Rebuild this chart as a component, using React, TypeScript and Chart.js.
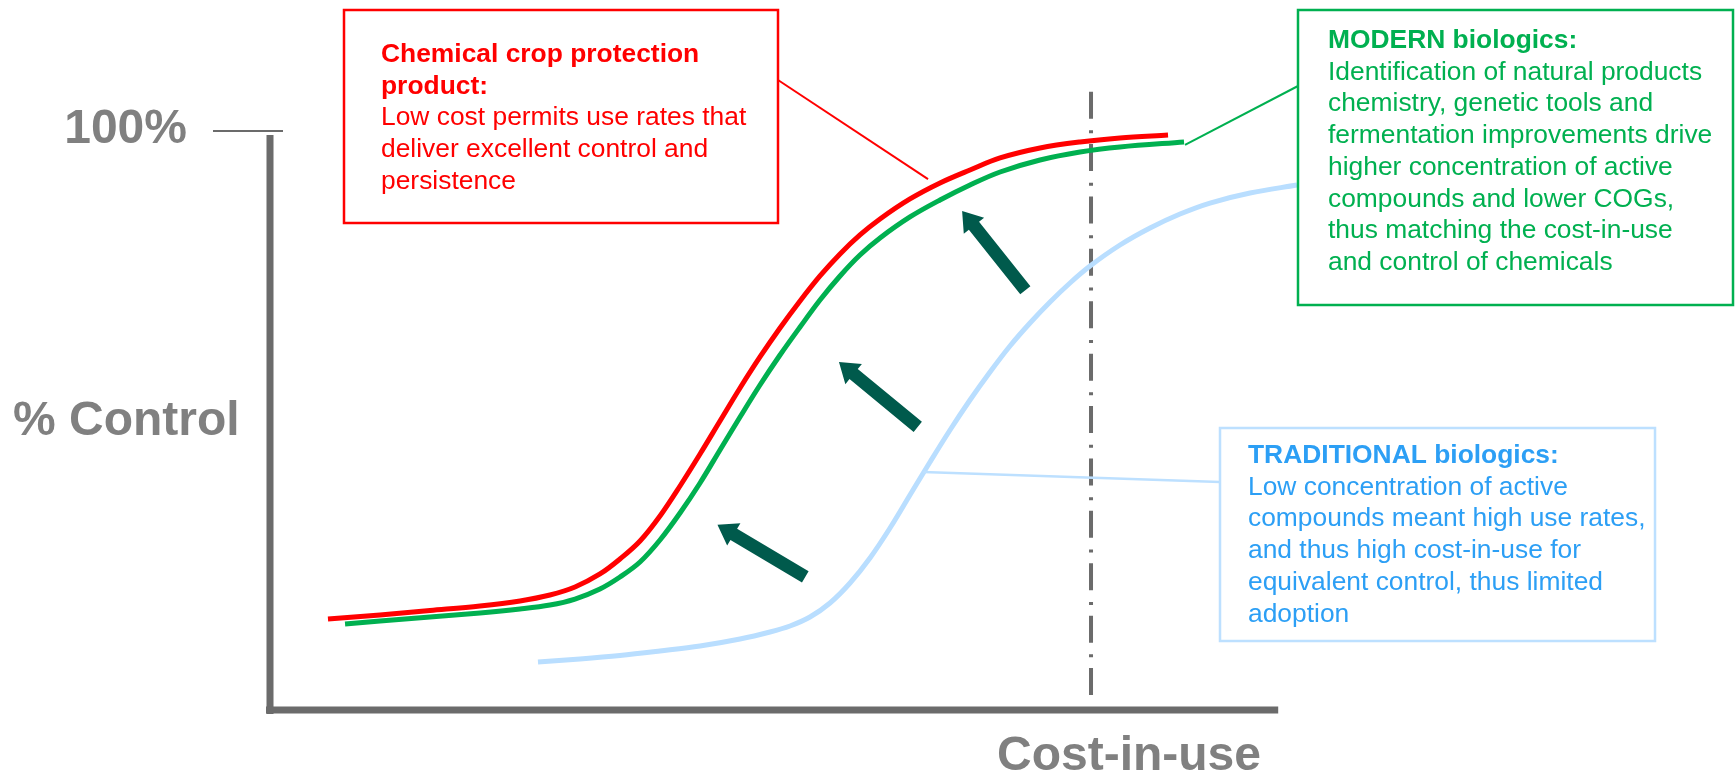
import React, { useEffect, useRef } from "react";
import { Chart, registerables } from "chart.js";

Chart.register(...registerables);

// x: cost-in-use (arbitrary units, 100 = reference cost line), y: % control
const chemicalX = [7.06, 13.4, 19.49, 25.58, 30.45, 34.1, 37.15, 40.19, 42.63, 45.07, 47.5, 49.94, 52.38, 54.81, 57.25, 59.68, 62.12, 64.56, 66.99, 69.43, 71.86, 74.3, 77.95, 81.61, 85.26, 88.92, 93.79, 98.66, 103.53, 109.38];
const chemicalY = [15.72, 16.41, 17.18, 17.96, 18.83, 19.86, 21.24, 23.49, 26.08, 29.19, 33.51, 38.69, 44.21, 49.91, 55.61, 60.97, 65.98, 70.64, 74.96, 78.76, 82.04, 84.8, 88.26, 91.02, 93.26, 95.34, 97.06, 98.1, 98.79, 99.31];

const modernX = [9.14, 13.4, 19.49, 25.58, 30.45, 34.1, 37.15, 40.19, 42.63, 45.07, 47.5, 49.94, 52.38, 54.81, 57.25, 59.68, 62.12, 64.56, 66.99, 69.43, 71.86, 74.3, 77.95, 81.61, 85.26, 88.92, 93.79, 98.66, 103.53, 111.33];
const modernY = [14.85, 15.37, 16.06, 16.75, 17.44, 18.13, 19.17, 20.9, 22.97, 25.56, 29.36, 34.02, 39.21, 44.91, 50.6, 56.13, 61.31, 66.15, 70.81, 74.96, 78.58, 81.52, 85.15, 88.08, 90.67, 92.92, 94.99, 96.37, 97.24, 98.1];

const traditionalX = [32.64, 37.76, 42.63, 47.5, 52.38, 57.25, 60.9, 63.34, 65.77, 68.21, 70.65, 73.08, 75.52, 77.95, 80.39, 82.83, 85.26, 87.7, 90.13, 92.57, 95.01, 97.44, 99.88, 103.53, 107.19, 110.84, 114.49, 119.37, 125.09];
const traditionalY = [8.29, 8.81, 9.41, 10.19, 11.05, 12.26, 13.47, 14.51, 16.06, 18.48, 21.93, 26.25, 31.43, 37.13, 42.83, 48.36, 53.54, 58.38, 62.87, 66.84, 70.47, 73.75, 76.68, 80.31, 83.25, 85.66, 87.56, 89.29, 90.67];

const costLineX = [100, 100];
const costLineY = [106.8, 1.2];

const arrowTailX = [65.2, 78.9, 92.0];
const arrowTailY = [23.0, 48.9, 72.5];
const arrowTipX = [54.5, 69.3, 84.3];
const arrowTipY = [32.0, 60.1, 86.2];

const yTickValue = 100;
const yTickLabel = "100%";
const yAxisTitle = "% Control";
const xAxisTitle = "Cost-in-use";
const xAxisEnd = 122.8;

const calloutTitles = [
  ["Chemical crop protection", "product:"],
  ["MODERN biologics:"],
  ["TRADITIONAL biologics:"],
];
const calloutBodies = [
  ["Low cost permits use rates that", "deliver excellent control and", "persistence"],
  [
    "Identification of natural products",
    "chemistry, genetic tools and",
    "fermentation improvements drive",
    "higher concentration of active",
    "compounds and lower COGs,",
    "thus matching the cost-in-use",
    "and control of chemicals",
  ],
  [
    "Low concentration of active",
    "compounds meant high use rates,",
    "and thus high cost-in-use for",
    "equivalent control, thus limited",
    "adoption",
  ],
];
const calloutAnchorX = [80.15, 111.45, 79.54];
const calloutAnchorY = [91.7, 97.6, 41.1];

// layout / style (pixels)
const W = 1736;
const H = 772;
const FONT = '"Liberation Sans", Arial, Helvetica, sans-serif';
const RED = "#ff0000";
const GREEN = "#00b050";
const LIGHTBLUE = "#b9deff";
const BLUE_TEXT = "#2c9ff5";
const AXIS = "#6b6b6b";
const LABEL = "#808080";
const ARROW = "#005a4c";

const boxes = [
  { x: 344, y: 10, w: 434, h: 213, tx: 37, ty: 52, border: RED, text: RED, lx: 778, ly: 80, lw: 2, lc: RED },
  { x: 1298, y: 10, w: 435, h: 295, tx: 30, ty: 38, border: GREEN, text: GREEN, lx: 1298, ly: 86, lw: 2, lc: GREEN },
  { x: 1220, y: 428, w: 435, h: 213, tx: 28, ty: 35, border: "#bde0ff", text: BLUE_TEXT, lx: 1220, ly: 482, lw: 2.5, lc: "#bde0ff" },
];

const toPts = (xs: number[], ys: number[]) => xs.map((x, i) => ({ x, y: ys[i] }));

const decorPlugin = {
  id: "decor",
  beforeDatasetsDraw(chart: any) {
    const ctx = chart.ctx;
    const xs = chart.scales.x;
    const ys = chart.scales.y;
    const ax = xs.getPixelForValue(0);
    const ay = ys.getPixelForValue(0);
    const ty = ys.getPixelForValue(yTickValue);
    ctx.save();
    // axes
    ctx.fillStyle = AXIS;
    ctx.fillRect(ax - 3.5, ty + 4, 7, ay - ty);
    ctx.fillRect(ax - 4, ay - 3.5, xs.getPixelForValue(xAxisEnd) - ax + 4, 7);
    // tick
    ctx.strokeStyle = AXIS;
    ctx.lineWidth = 2;
    ctx.beginPath();
    ctx.moveTo(ax - 57, ty);
    ctx.lineTo(ax + 13, ty);
    ctx.stroke();
    // labels
    ctx.fillStyle = LABEL;
    ctx.font = `bold 48px ${FONT}`;
    ctx.textBaseline = "alphabetic";
    ctx.textAlign = "right";
    ctx.fillText(yTickLabel, ax - 83, ty + 12);
    ctx.textAlign = "left";
    ctx.fillText(yAxisTitle, 13, 435);
    ctx.fillText(xAxisTitle, 997, 770);
    ctx.restore();
  },
  afterDatasetsDraw(chart: any) {
    const ctx = chart.ctx;
    const xs = chart.scales.x;
    const ys = chart.scales.y;
    ctx.save();
    // arrows
    ctx.fillStyle = ARROW;
    for (let i = 0; i < arrowTailX.length; i++) {
      const tx = xs.getPixelForValue(arrowTailX[i]);
      const tyy = ys.getPixelForValue(arrowTailY[i]);
      const px = xs.getPixelForValue(arrowTipX[i]);
      const py = ys.getPixelForValue(arrowTipY[i]);
      const dx = px - tx;
      const dy = py - tyy;
      const len = Math.hypot(dx, dy);
      const ux = dx / len;
      const uy = dy / len;
      const nx = -uy;
      const ny = ux;
      const hw = 6.5;
      const hh = 13;
      const hl = 19;
      const bx = px - ux * hl;
      const by = py - uy * hl;
      ctx.beginPath();
      ctx.moveTo(tx + nx * hw, tyy + ny * hw);
      ctx.lineTo(bx + nx * hw, by + ny * hw);
      ctx.lineTo(bx + nx * hh, by + ny * hh);
      ctx.lineTo(px, py);
      ctx.lineTo(bx - nx * hh, by - ny * hh);
      ctx.lineTo(bx - nx * hw, by - ny * hw);
      ctx.lineTo(tx - nx * hw, tyy - ny * hw);
      ctx.closePath();
      ctx.fill();
    }
    // callouts
    boxes.forEach((b, i) => {
      ctx.strokeStyle = b.lc;
      ctx.lineWidth = b.lw;
      ctx.beginPath();
      ctx.moveTo(b.lx, b.ly);
      ctx.lineTo(xs.getPixelForValue(calloutAnchorX[i]), ys.getPixelForValue(calloutAnchorY[i]));
      ctx.stroke();
      ctx.fillStyle = "#ffffff";
      ctx.fillRect(b.x, b.y, b.w, b.h);
      ctx.strokeStyle = b.border;
      ctx.lineWidth = 2.5;
      ctx.strokeRect(b.x, b.y, b.w, b.h);
      ctx.fillStyle = b.text;
      ctx.textAlign = "left";
      ctx.textBaseline = "alphabetic";
      let yy = b.y + b.ty;
      ctx.font = `bold 26.4px ${FONT}`;
      calloutTitles[i].forEach((t) => {
        ctx.fillText(t, b.x + b.tx, yy);
        yy += 31.7;
      });
      ctx.font = `26.4px ${FONT}`;
      calloutBodies[i].forEach((t) => {
        ctx.fillText(t, b.x + b.tx, yy);
        yy += 31.7;
      });
    });
    ctx.restore();
  },
};

export default function App() {
  const ref = useRef<HTMLCanvasElement | null>(null);
  useEffect(() => {
    if (!ref.current) return;
    const lineDs = (label: string, data: any[], color: string, width: number, order: number) => ({
      label,
      data,
      borderColor: color,
      backgroundColor: color,
      borderWidth: width,
      pointRadius: 0,
      fill: false,
      tension: 0.35,
      borderCapStyle: "butt" as const,
      borderJoinStyle: "round" as const,
      clip: false as any,
      order,
    });
    const chart = new Chart(ref.current, {
      type: "line",
      data: {
        datasets: [
          {
            ...lineDs("Cost line", toPts(costLineX, costLineY), AXIS, 4, 5),
            borderDash: [27, 11.7, 3, 10.7],
            tension: 0,
          },
          lineDs("Traditional biologics", toPts(traditionalX, traditionalY), LIGHTBLUE, 5, 4),
          lineDs("Modern biologics", toPts(modernX, modernY), GREEN, 5, 3),
          lineDs("Chemical", toPts(chemicalX, chemicalY), RED, 5, 2),
        ],
      },
      options: {
        animation: false,
        responsive: false,
        layout: { padding: 0 },
        plugins: { legend: { display: false }, tooltip: { enabled: false } },
        scales: {
          x: { type: "linear", display: false, min: -32.886, max: 178.56 },
          y: { type: "linear", display: false, min: -10.708, max: 122.625 },
        },
      },
      plugins: [decorPlugin],
    });
    return () => chart.destroy();
  }, []);
  return (
    <div style={{ position: "fixed", left: 0, top: 0, width: W, height: H, background: "#fff" }}>
      <canvas ref={ref} width={W} height={H} style={{ display: "block" }} />
    </div>
  );
}
